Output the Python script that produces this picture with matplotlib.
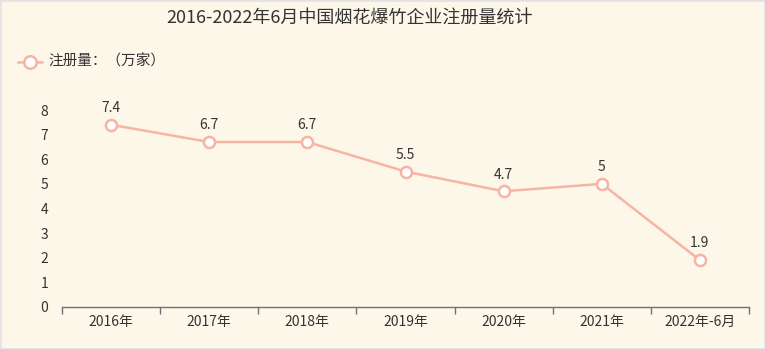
import matplotlib
matplotlib.use('Agg')
import matplotlib.pyplot as plt

plt.rcParams['font.family'] = ['Noto Sans CJK SC', 'DejaVu Sans']

# data
categories = ['2016年', '2017年', '2018年', '2019年', '2020年', '2021年', '2022年-6月']
values = [7.4, 6.7, 6.7, 5.5, 4.7, 5, 1.9]
value_labels = ['7.4', '6.7', '6.7', '5.5', '4.7', '5', '1.9']
y_ticks = [0, 1, 2, 3, 4, 5, 6, 7, 8]

bg = '#fdf7ea'
line_c = '#f7b4a4'
text_c = '#333333'
axis_c = '#6e7079'

W, H = 765, 349
fig = plt.figure(figsize=(W / 100, H / 100), dpi=100, facecolor=bg)
fig.patches.append(plt.Rectangle((0, 0), 1, 1, transform=fig.transFigure,
                                 fill=False, edgecolor='#e3e3e3', linewidth=2))

ax = fig.add_axes([62 / W, (H - 307) / H, (749 - 62) / W, (307 - 110) / H])
ax.set_facecolor(bg)

x = list(range(len(categories)))
ax.plot(x, values, color=line_c, linewidth=1.8, marker='o', markersize=8,
        markerfacecolor='white', markeredgecolor=line_c, markeredgewidth=1.8,
        zorder=3, clip_on=False)
for xi, v, lab in zip(x, values, value_labels):
    ax.annotate(lab, (xi, v), xytext=(0, 7), textcoords='offset points',
                ha='center', va='bottom', fontsize=10, color=text_c)

ax.set_xlim(-0.5, len(categories) - 0.5)
ax.set_ylim(0, 8)
ax.set_yticks(y_ticks)
ax.set_yticklabels([str(t) for t in y_ticks], fontsize=10, color=text_c)
ax.tick_params(axis='y', length=0, pad=10)

ax.set_xticks(x)
ax.set_xticklabels(categories, fontsize=10, color=text_c)
ax.tick_params(axis='x', length=0, pad=6)
# boundary ticks between categories
ax.set_xticks([i - 0.5 for i in range(len(categories) + 1)], minor=True)
ax.tick_params(axis='x', which='minor', length=5, color=axis_c, width=1)

for s in ['top', 'right', 'left']:
    ax.spines[s].set_visible(False)
ax.spines['bottom'].set_color(axis_c)
ax.spines['bottom'].set_linewidth(1)

fig.text(350 / W, 1 - 18 / H, '2016-2022年6月中国烟花爆竹企业注册量统计',
         ha='center', va='center', fontsize=13, color=text_c)

# legend
ly = 1 - 62 / H
fig.add_artist(plt.Line2D([18 / W, 42 / W], [ly, ly], color=line_c, linewidth=1.8))
fig.add_artist(plt.Line2D([30 / W], [ly], color=line_c, marker='o', markersize=9,
                          markerfacecolor='white', markeredgecolor=line_c,
                          markeredgewidth=1.8, linestyle='none'))
fig.text(48 / W, ly, '注册量：（万家）', ha='left', va='center', fontsize=10.5, color=text_c)

fig.savefig('out.png', dpi=100, facecolor=bg)
